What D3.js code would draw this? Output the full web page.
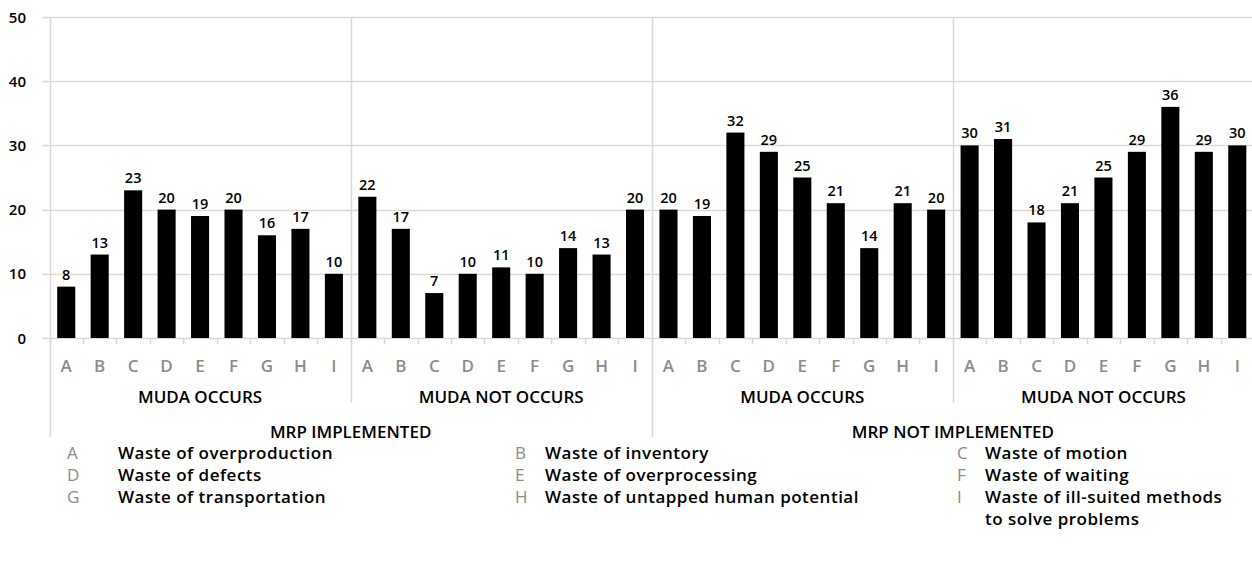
<!DOCTYPE html>
<html>
<head>
<meta charset="utf-8">
<script src="https://cdn.jsdelivr.net/npm/d3@7"></script>
<style>
  body { margin: 0; background: #fff; }
  svg { display: block; font-family: "Open Sans", sans-serif; }
</style>
</head>
<body>
<div id="chart"></div>
<script>
// categories and values
const letters = ["A", "B", "C", "D", "E", "F", "G", "H", "I"];
const mudaGroups = ["MUDA OCCURS", "MUDA NOT OCCURS", "MUDA OCCURS", "MUDA NOT OCCURS"];
const mrpGroups = ["MRP IMPLEMENTED", "MRP NOT IMPLEMENTED"];
const implOccurs = [8, 13, 23, 20, 19, 20, 16, 17, 10];
const implNotOccurs = [22, 17, 7, 10, 11, 10, 14, 13, 20];
const notImplOccurs = [20, 19, 32, 29, 25, 21, 14, 21, 20];
const notImplNotOccurs = [30, 31, 18, 21, 25, 29, 36, 29, 30];
const yTicks = [0, 10, 20, 30, 40, 50];
const legendItems = [
    ["A", "Waste of overproduction"], ["B", "Waste of inventory"], ["C", "Waste of motion"],
    ["D", "Waste of defects"], ["E", "Waste of overprocessing"], ["F", "Waste of waiting"],
    ["G", "Waste of transportation"], ["H", "Waste of untapped human potential"], ["I", "Waste of ill-suited methods|to solve problems"]
];

const width = 1252, height = 561;
const plotLeft = 49.5, plotRight = 1254, plotTop = 17, plotBottom = 338;

const series = [implOccurs, implNotOccurs, notImplOccurs, notImplNotOccurs];
const data = [];
series.forEach((vals, g) => vals.forEach((v, i) => data.push({ key: g * 9 + i, letter: letters[i], value: v })));

const svg = d3.select('#chart').append('svg')
    .attr('width', width)
    .attr('height', height);

const x = d3.scaleBand()
    .domain(d3.range(data.length))
    .range([plotLeft, plotRight])
    .paddingInner(0.46)
    .paddingOuter(0.23);

const y = d3.scaleLinear().domain([0, 50]).range([plotBottom, plotTop]);

const grid = '#d9d9d9';

// Gridlines
svg.append('g').selectAll('line')
    .data(yTicks)
    .join('line')
    .attr('x1', 42).attr('x2', width)
    .attr('y1', d => Math.round(y(d)) + 0.5).attr('y2', d => Math.round(y(d)) + 0.5)
    .attr('stroke', grid).attr('stroke-width', 1.5);

// Y labels
svg.append('g').selectAll('text')
    .data(yTicks)
    .join('text')
    .attr('x', 26).attr('y', d => y(d) + 5.5)
    .attr('text-anchor', 'end')
    .attr('font-size', 15).attr('font-weight', 600)
    .attr('fill', '#000')
    .text(d => d);

// Group separators
const step = x.step();
d3.range(5).forEach(k => {
    const xx = Math.round(plotLeft + k * 9 * step) + 0.5;
    svg.append('line')
        .attr('x1', xx).attr('x2', xx)
        .attr('y1', plotTop).attr('y2', k % 2 === 0 ? 437 : 403)
        .attr('stroke', grid).attr('stroke-width', 1.5);
});

// Category tick marks
svg.append('g').selectAll('line')
    .data(d3.range(data.length))
    .join('line')
    .attr('x1', d => Math.round(plotLeft + d * step) + 0.5)
    .attr('x2', d => Math.round(plotLeft + d * step) + 0.5)
    .attr('y1', plotBottom).attr('y2', plotBottom + 6)
    .attr('stroke', grid).attr('stroke-width', 1.5);

// Bars
svg.append('g').selectAll('rect')
    .data(data)
    .join('rect')
    .attr('x', d => x(d.key))
    .attr('y', d => y(d.value))
    .attr('width', x.bandwidth())
    .attr('height', d => y(0) - y(d.value))
    .attr('fill', '#000');

// Value labels
svg.append('g').selectAll('text')
    .data(data)
    .join('text')
    .attr('x', d => x(d.key) + x.bandwidth() / 2)
    .attr('y', d => y(d.value) - 7)
    .attr('text-anchor', 'middle')
    .attr('font-size', 14.5).attr('font-weight', 600)
    .text(d => d.value);

// Letter labels
svg.append('g').selectAll('text')
    .data(data)
    .join('text')
    .attr('x', d => x(d.key) + x.bandwidth() / 2)
    .attr('y', 372)
    .attr('text-anchor', 'middle')
    .attr('font-size', 17).attr('font-weight', 600)
    .attr('fill', '#8c8c8c')
    .text(d => d.letter);

// Muda group labels
svg.append('g').selectAll('text')
    .data(mudaGroups)
    .join('text')
    .attr('x', (d, i) => plotLeft + (i * 9 + 4.5) * step)
    .attr('y', 403)
    .attr('text-anchor', 'middle')
    .attr('font-size', 17).attr('font-weight', 600)
    .text(d => d);

// MRP group labels
svg.append('g').selectAll('text')
    .data(mrpGroups)
    .join('text')
    .attr('x', (d, i) => plotLeft + (i * 18 + 9) * step)
    .attr('y', 438)
    .attr('text-anchor', 'middle')
    .attr('font-size', 17).attr('font-weight', 600)
    .text(d => d);

// Legend
const colLetter = [67, 515, 957];
const colText = [118, 545, 985];
legendItems.forEach((item, i) => {
    const c = i % 3, r = Math.floor(i / 3);
    const yy = 459 + r * 22;
    svg.append('text')
        .attr('x', colLetter[c]).attr('y', yy)
        .attr('font-size', 17).attr('fill', '#8c8c8c')
        .text(item[0]);
    const t = svg.append('text')
        .attr('x', colText[c]).attr('y', yy)
        .attr('font-size', 17).attr('font-weight', 600)
        .attr('letter-spacing', 0.5);
    item[1].split('|').forEach((line, j) => {
        t.append('tspan').attr('x', colText[c]).attr('dy', j === 0 ? 0 : 22).text(line);
    });
});
</script>
</body>
</html>
